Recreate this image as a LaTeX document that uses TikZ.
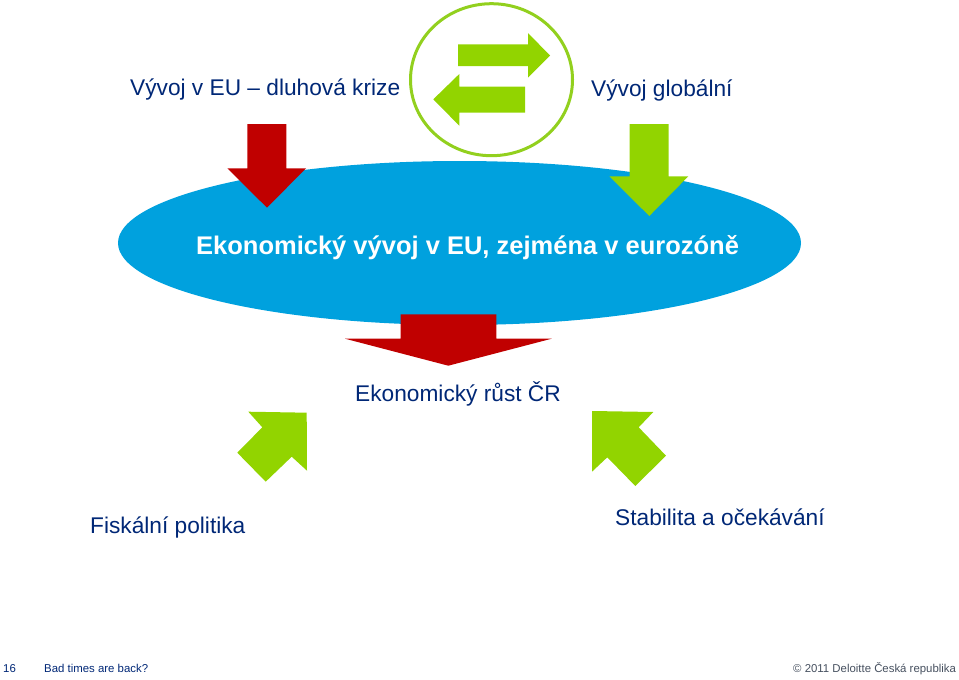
\documentclass[tikz,border=0pt]{standalone}
\usepackage{xcolor}
\usepackage{fontspec}
\setmainfont{Liberation Sans}
\usepackage{tikz}
\definecolor{dlblue}{RGB}{0,161,222}
\definecolor{dlnavy}{RGB}{0,39,118}
\definecolor{dlgreen}{RGB}{146,212,0}
\definecolor{dlring}{RGB}{146,208,30}
\definecolor{dlred}{RGB}{192,0,0}
\definecolor{dlgrey}{RGB}{70,80,95}

\begin{document}
\begin{tikzpicture}[x=1pt, y=-1pt,
  txtlabel/.style={inner sep=0pt, anchor=base west, text=dlnavy, font=\fontsize{22.7}{26}\selectfont},
  boldlabel/.style={txtlabel, text=white, font=\fontsize{25.5}{28}\selectfont\bfseries},
  foot/.style={inner sep=0pt, anchor=base west, text=dlnavy, font=\fontsize{11.4}{14}\selectfont},
  grn/.style={fill=dlgreen, draw=none},
  rd/.style={fill=dlred, draw=none}
]
\useasboundingbox (0,0) rectangle (959,680);
% Ellipse and ring
\fill[dlblue] (459.5,243) ellipse [x radius=341.5, y radius=82];
\draw[dlring, line width=3pt] (491.5,79.7) ellipse [x radius=81, y radius=76];
% Exchange arrows
\path[grn] (458,44.3) -- (528,44.3) -- (528,33) -- (550,55.5) -- (528,77.7) -- (528,66) -- (458,66) -- cycle;
\path[grn] (525,86.7) -- (459.3,86.7) -- (459.3,74) -- (433.3,99.3) -- (459.3,125.7) -- (459.3,112.7) -- (525,112.7) -- cycle;
% Down arrows
\path[rd] (247.3,124) -- (286.3,124) -- (286.3,168.3) -- (306,168.3) -- (267,207.7) -- (227.3,168.3) -- (247.3,168.3) -- cycle;
\path[grn] (629.7,124) -- (668.7,124) -- (668.7,176.3) -- (688.3,176.3) -- (649.3,216) -- (609.3,176.3) -- (629.7,176.3) -- cycle;
\path[rd] (400.7,314.3) -- (496.3,314.3) -- (496.3,338.7) -- (551.7,338.7) -- (448.3,365.7) -- (345,338.7) -- (400.7,338.7) -- cycle;
% Diagonal arrows
\path[grn] (248.3,411.7) -- (306.7,412.7) -- (307,470.7) -- (291.7,456.7) -- (265.7,481.7) -- (237.3,452.7) -- (262.3,427.3) -- cycle;
\path[grn] (592,411) -- (653.3,412) -- (638.7,427.3) -- (666,455.7) -- (635.3,486) -- (607.3,457.3) -- (592,471.7) -- cycle;
% Labels
\node[txtlabel] (eu) at (130,95) {Vývoj v EU -- dluhová krize};
\node[txtlabel] (global) at (591,96) {Vývoj globální};
\node[boldlabel] (ekon) at (196,254) {Ekonomický vývoj v EU, zejména v eurozóně};
\node[txtlabel] (rust) at (355,401) {Ekonomický růst ČR};
\node[txtlabel] (fisk) at (90,533) {Fiskální politika};
\node[txtlabel] (stab) at (615,525) {Stabilita a očekávání};
% Footer
\node[foot] (page) at (3,672) {16};
\node[foot] (title) at (44,672) {Bad times are back?};
\node[foot, text=dlgrey] (copy) at (793,672) {© 2011 Deloitte Česká republika};
\end{tikzpicture}
\end{document}
